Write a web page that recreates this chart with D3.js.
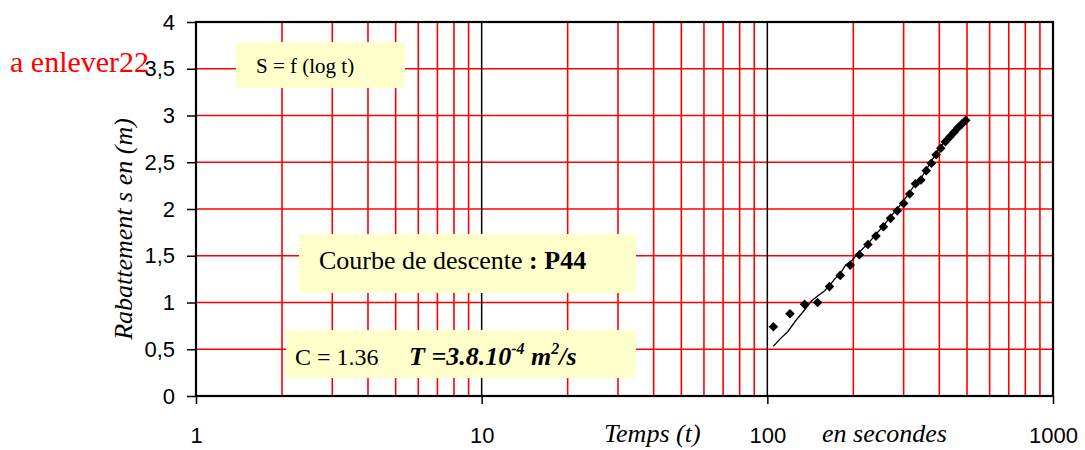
<!DOCTYPE html>
<html><head><meta charset="utf-8">
<script src="https://cdn.jsdelivr.net/npm/d3@7"></script>
<style>body{margin:0;background:#fff}svg{display:block}</style></head>
<body><svg id="c" width="1085" height="450"></svg>
<script>
// ---- data ----
const pointTimes = [105,120,135,150,165,180,195,210,225,240,255,270,285,300,315,330,345,360,375,390,405,420,435,450,465,480,495];
const pointS     = [0.74,0.88,0.98,1.00,1.17,1.29,1.40,1.51,1.62,1.71,1.81,1.90,1.98,2.06,2.16,2.27,2.31,2.41,2.49,2.58,2.65,2.72,2.77,2.82,2.87,2.91,2.95];
const lineTimes  = [105,110,118,126,135,143,150,158,165,172,180,188,195,210,225,240,255,270,285,300,315,330,345,360,375,390,405,420,435,450,465,480,495];
const lineS      = [0.53,0.60,0.69,0.81,0.92,1.02,1.07,1.12,1.18,1.25,1.31,1.40,1.43,1.54,1.63,1.73,1.82,1.92,2.00,2.09,2.18,2.27,2.33,2.42,2.51,2.60,2.67,2.73,2.79,2.84,2.88,2.92,2.96];
const xTickValues = [1,10,100,1000];
const xTickLabels = ["1","10","100","1000"];
const yTickValues = [0,0.5,1,1.5,2,2.5,3,3.5,4];
const yTickLabels = ["0","0,5","1","1,5","2","2,5","3","3,5","4"];
const minorMultipliers = [2,3,4,5,6,7,8,9];
const decades = [1,10,100];

const svg = d3.select("#c");
const L = 196, R = 1053, T = 22, B = 396;
const x = d3.scaleLog().domain([1,1000]).range([L,R]);
const y = d3.scaleLinear().domain([0,4]).range([B,T]);

svg.append("rect").attr("width",1085).attr("height",450).attr("fill","#fff");

// minor vertical red gridlines
const minors = [];
decades.forEach(d => minorMultipliers.forEach(m => minors.push(d*m)));
svg.append("g").selectAll("line").data(minors).join("line")
  .attr("x1",d=>x(d)).attr("x2",d=>x(d)).attr("y1",T).attr("y2",B)
  .attr("stroke","#ff0000").attr("stroke-width",1.6);
// horizontal red gridlines
svg.append("g").selectAll("line").data(yTickValues.filter(v=>v>0 && v<4)).join("line")
  .attr("x1",L).attr("x2",R).attr("y1",d=>y(d)).attr("y2",d=>y(d))
  .attr("stroke","#ff0000").attr("stroke-width",1.6);
// black major verticals at 10, 100
svg.append("g").selectAll("line").data([10,100]).join("line")
  .attr("x1",d=>x(d)).attr("x2",d=>x(d)).attr("y1",T).attr("y2",B)
  .attr("stroke","#000").attr("stroke-width",1.5);

// text boxes
const boxes = [
  {x:236,y:42,w:169,h:46},
  {x:299,y:234,w:337,h:59},
  {x:286,y:330,w:350,h:48}
];
svg.append("g").selectAll("rect").data(boxes).join("rect")
  .attr("x",d=>d.x).attr("y",d=>d.y).attr("width",d=>d.w).attr("height",d=>d.h)
  .attr("fill","#ffffcc");

// frame
svg.append("rect").attr("x",L).attr("y",T).attr("width",R-L).attr("height",B-T)
  .attr("fill","none").attr("stroke","#000").attr("stroke-width",2.2);

// axes
const yAxis = d3.axisLeft(y).tickValues(yTickValues).tickFormat((d,i)=>yTickLabels[i]).tickSize(9).tickPadding(12);
const gy = svg.append("g").attr("transform",`translate(${L},0)`).call(yAxis);
gy.select(".domain").remove();
gy.selectAll("line").attr("stroke","#000").attr("stroke-width",1.5);
gy.selectAll("text").attr("font-family","Liberation Sans, Arial, sans-serif").attr("font-size",22).attr("fill","#000");

const xAxis = d3.axisBottom(x).tickValues(xTickValues).tickFormat((d,i)=>xTickLabels[i]).tickSize(8).tickPadding(23);
const gx = svg.append("g").attr("transform",`translate(0,${B})`).call(xAxis);
gx.select(".domain").remove();
gx.selectAll("line").attr("stroke","#000").attr("stroke-width",1.5);
gx.selectAll("text").attr("font-family","Liberation Sans, Arial, sans-serif").attr("font-size",22).attr("fill","#000");

// line series
const lineGen = d3.line().x(d=>x(d[0])).y(d=>y(d[1]));
svg.append("path").datum(lineTimes.map((t,i)=>[t,lineS[i]]))
  .attr("d",lineGen).attr("fill","none").attr("stroke","#000").attr("stroke-width",1.3);

// points (diamonds)
const sym = d3.symbol().type(d3.symbolSquare).size(46);
svg.append("g").selectAll("path").data(pointTimes.map((t,i)=>[t,pointS[i]])).join("path")
  .attr("d",sym).attr("transform",d=>`translate(${x(d[0])},${y(d[1])}) rotate(45)`)
  .attr("fill","#000");

// texts
const serif = "Liberation Serif, Times New Roman, serif";
svg.append("text").attr("x",10).attr("y",72).attr("font-family",serif).attr("font-size",30)
  .attr("fill","#ff0000").text("a enlever22");
svg.append("text").attr("x",256).attr("y",73).attr("font-family",serif).attr("font-size",21)
  .attr("fill","#000").text("S = f (log t)");
const t2 = svg.append("text").attr("x",319).attr("y",269).attr("font-family",serif).attr("font-size",26).attr("fill","#000");
t2.append("tspan").text("Courbe de descente ");
t2.append("tspan").attr("font-weight","bold").text(": P44");
svg.append("text").attr("x",295).attr("y",365).attr("font-family",serif).attr("font-size",24).attr("fill","#000").text("C = 1.36");
const t3 = svg.append("text").attr("x",409).attr("y",365).attr("font-family",serif).attr("font-size",26)
  .attr("font-weight","bold").attr("font-style","italic").attr("fill","#000");
t3.append("tspan").text("T =3.8.10");
t3.append("tspan").attr("font-size",16).attr("dy",-11).text("-4");
t3.append("tspan").attr("dy",11).text(" m");
t3.append("tspan").attr("font-size",16).attr("dy",-11).text("2");
t3.append("tspan").attr("dy",11).text("/s");

svg.append("text").attr("x",604).attr("y",442).attr("font-family",serif).attr("font-size",26)
  .attr("font-style","italic").attr("fill","#000").text("Temps (t)");
svg.append("text").attr("x",822).attr("y",442).attr("font-family",serif).attr("font-size",26)
  .attr("font-style","italic").attr("fill","#000").text("en secondes");
svg.append("text").attr("transform","translate(132,229) rotate(-90)").attr("text-anchor","middle")
  .attr("font-family",serif).attr("font-size",26).attr("font-style","italic").attr("fill","#000")
  .text("Rabattement s en (m)");
</script></body></html>
